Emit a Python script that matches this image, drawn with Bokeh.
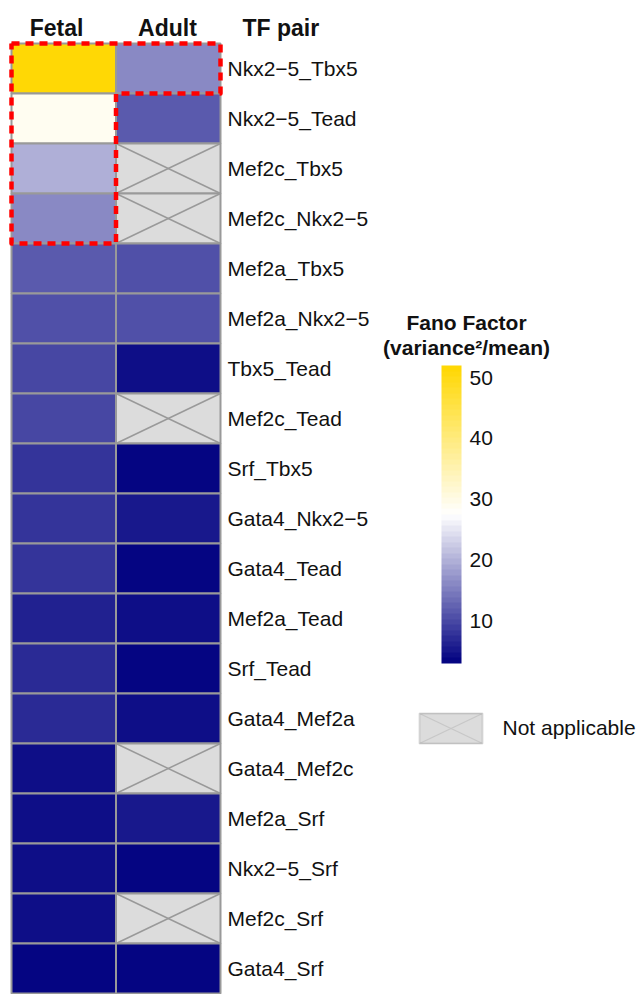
import numpy as np
from bokeh.plotting import figure
from bokeh.models import (Range1d, ColumnDataSource, LinearColorMapper, ColorBar,
                          FixedTicker, Label, BoxAnnotation, PolyAnnotation)
from bokeh.transform import transform
from bokeh.core.properties import value
from bokeh.embed import file_html
from bokeh.resources import INLINE

# ---------------- data ----------------
tf_pairs = ["Nkx2\u22125_Tbx5", "Nkx2\u22125_Tead", "Mef2c_Tbx5", "Mef2c_Nkx2\u22125",
            "Mef2a_Tbx5", "Mef2a_Nkx2\u22125", "Tbx5_Tead", "Mef2c_Tead", "Srf_Tbx5",
            "Gata4_Nkx2\u22125", "Gata4_Tead", "Mef2a_Tead", "Srf_Tead", "Gata4_Mef2a",
            "Gata4_Mef2c", "Mef2a_Srf", "Nkx2\u22125_Srf", "Mef2c_Srf", "Gata4_Srf"]
conditions = ["Fetal", "Adult"]
fetal = [51.5, 28.5, 20.0, 15.8, 11.7, 10.7, 9.8, 9.8, 8.2, 8.1, 8.1, 6.6, 6.8, 6.7,
         4.7, 4.5, 4.0, 4.2, 3.0]
adult = [16.0, 11.7, np.nan, np.nan, 10.9, 10.9, 4.7, np.nan, 3.0, 4.9, 3.1, 4.8, 3.0,
         4.0, np.nan, 4.9, 3.0, np.nan, 3.0]
cbar_ticks = [10, 20, 30, 40, 50]
cbar_low, cbar_high = 3.0, 52.0
highlight_rows = {"Fetal": 4, "Adult": 1}   # top-N rows outlined per condition

# ---------------- layout constants (pixels) ----------------
W, H = 637, 994
GRID_LEFT, COL_W = 11.0, 104.5
GRID_TOP, ROW_H = 43.0, 50.0
FONT = "Liberation Sans"

# ---------------- palette ----------------
def lerp(c1, c2, t):
    return tuple(int(round(a + (b - a) * t)) for a, b in zip(c1, c2))

navy, white, gold = (0, 0, 128), (255, 255, 255), (255, 215, 0)
N = 54
palette = []
for i in range(N):
    f = (i + 0.5) / N
    if f < 0.5:
        c = lerp(navy, white, f / 0.5)
    else:
        c = lerp(white, gold, (f - 0.5) / 0.5)
    palette.append("#%02x%02x%02x" % c)

mapper = LinearColorMapper(palette=palette, low=cbar_low, high=cbar_high, nan_color="#dcdcdc")

# ---------------- figure ----------------
x_range = Range1d(-GRID_LEFT / COL_W, (W - GRID_LEFT) / COL_W)
y_range = Range1d((H - GRID_TOP) / ROW_H, -GRID_TOP / ROW_H)
p = figure(width=W, height=H, x_range=x_range, y_range=y_range,
           output_backend="svg", toolbar_location=None, min_border=0)
p.axis.visible = False
p.grid.visible = False
p.outline_line_color = None

xs, ys, vals = [], [], []
series = {"Fetal": fetal, "Adult": adult}
for ci, cond in enumerate(conditions):
    for ri, v in enumerate(series[cond]):
        xs.append(ci + 0.5)
        ys.append(ri + 0.5)
        vals.append(v)
src = ColumnDataSource(dict(x=xs, y=ys, val=np.array(vals, dtype=float)))
p.rect(x="x", y="y", width=1, height=1, source=src,
       fill_color=transform("val", mapper), line_color="#999999", line_width=2)

# crosses in not-applicable cells
cx, cy = [], []
for ci, cond in enumerate(conditions):
    for ri, v in enumerate(series[cond]):
        if np.isnan(v):
            cx += [[ci, ci + 1], [ci, ci + 1]]
            cy += [[ri, ri + 1], [ri + 1, ri]]
p.multi_line(cx, cy, line_color="#999999", line_width=1.5)

# row labels
p.text(x=[len(conditions)] * len(tf_pairs), y=[i + 0.5 for i in range(len(tf_pairs))],
       text=tf_pairs, x_offset=7, text_baseline="middle", text_align="left",
       text_font=value(FONT), text_font_size="21px", text_color="#111111")

# red dashed highlight outline
nf, na = highlight_rows["Fetal"], highlight_rows["Adult"]
hx = [0, 2, 2, 1, 1, 0, 0]
hy = [0, 0, na, na, nf, nf, 0]
p.line(hx, hy, line_color="#ff0000", line_width=4.5, line_dash="8 6", line_join="round")

# text helper (screen units: y measured from bottom)
def slabel(text, x, y_top, size, bold=False, align="left", baseline="alphabetic"):
    p.add_layout(Label(x=x, y=H - y_top, x_units="screen", y_units="screen", text=text,
                       text_font=FONT, text_font_size=size,
                       text_font_style="bold" if bold else "normal",
                       text_align=align, text_baseline=baseline, text_color="#111111"))

# headers
slabel("Fetal", 56, 27, "23px", bold=True, align="center")
slabel("Adult", 167, 27, "23px", bold=True, align="center")
slabel("TF pair", 242, 27, "23px", bold=True, align="left")

# color bar title
slabel("Fano Factor", 466, 322, "21px", bold=True, align="center")
slabel("(variance\u00b2/mean)", 466, 347, "21px", bold=True, align="center")

cb = ColorBar(color_mapper=mapper, location=(441, H - 663), width=20, height=298,
              ticker=FixedTicker(ticks=cbar_ticks), major_tick_line_color=None,
              minor_tick_line_color=None, bar_line_color=None, label_standoff=8,
              padding=0, margin=0, background_fill_alpha=0, border_line_color=None,
              major_label_text_font=FONT, major_label_text_font_size="21px",
              major_label_text_color="#111111")
p.add_layout(cb, "center")

# not applicable legend
bl, br, bt, bb = 419, 482, 713, 743
p.add_layout(BoxAnnotation(left=bl, right=br, bottom=H - bb, top=H - bt,
                           left_units="screen", right_units="screen",
                           bottom_units="screen", top_units="screen",
                           fill_color="#dcdcdc", fill_alpha=1,
                           line_color="#999999", line_width=2))
p.add_layout(PolyAnnotation(xs=[bl, br, bl, br], ys=[H - bt, H - bb, H - bb, H - bt],
                            xs_units="screen", ys_units="screen",
                            fill_alpha=0, line_color="#999999", line_width=1.2))
slabel("Not applicable", 502, 727, "21px", align="left", baseline="middle")

open("out.html", "w").write(file_html(p, INLINE))
